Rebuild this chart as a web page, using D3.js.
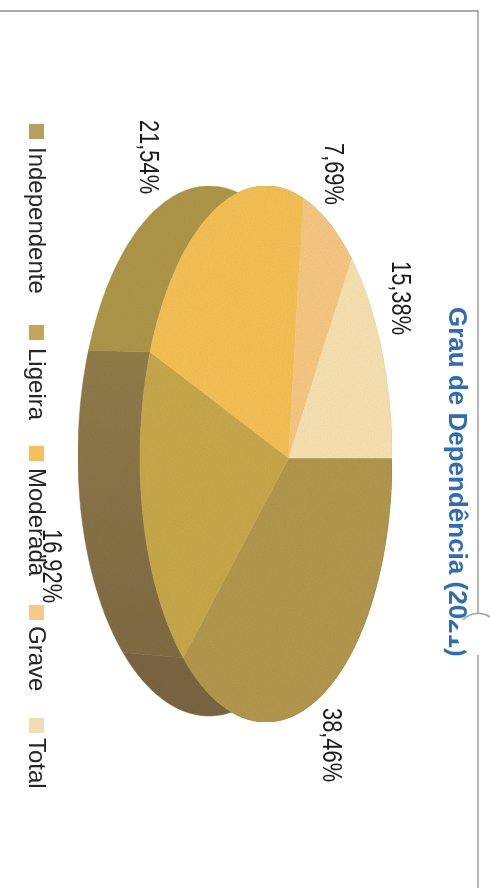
<!DOCTYPE html>
<html><head><meta charset="utf-8">
<script src="https://cdn.jsdelivr.net/npm/d3@7"></script>
<style>html,body{margin:0;padding:0;background:#fff;overflow:hidden}svg{display:block}text{font-family:"Liberation Sans",Arial,sans-serif}</style>
</head><body><div id="c"></div>
<script>
const categories = ["Independente","Ligeira","Moderada","Grave","Total"];
const values = [38.46,16.92,21.54,7.69,15.38];
const labels = ["38,46%","16,92%","21,54%","7,69%","15,38%"];
const topColors = ["#b0954c","#c5a549","#f2be52","#f3c480","#f5deae"];
const sideColors = ["#7a6440","url(#ligeiraSide)","#ac9447","#c09a55","#d0b880"];
const swatches = ["#b79f5c","#c2a655","#f4c05a","#f5c986","#f0dcb0"];
const labelPos = [[323,708],[43,529],[140,120],[325,143],[392,261]];
const legendPos = [124,325,446,605,718];
const legendTextPos = [147,348,468,626,738];
const title = "Grau de Dependência (2021)";

const W=490,H=888;
const svg=d3.select("#c").append("svg").attr("width",W).attr("height",H);
const defs=svg.append("defs");
defs.append("filter").attr("id","soft").append("feGaussianBlur").attr("stdDeviation",0.5);
const grain=defs.append("filter").attr("id","grain").attr("x",0).attr("y",0).attr("width","100%").attr("height","100%");
grain.append("feGaussianBlur").attr("in","SourceGraphic").attr("stdDeviation",0.5).attr("result","b");
grain.append("feTurbulence").attr("type","fractalNoise").attr("baseFrequency",0.7).attr("numOctaves",2).attr("seed",4).attr("result","n");
grain.append("feColorMatrix").attr("in","n").attr("type","matrix")
  .attr("values","0 0 0 0 0  0 0 0 0 0  0 0 0 0 0  1.2 0 0 0 -0.45").attr("result","d");
grain.append("feComposite").attr("in","d").attr("in2","b").attr("operator","in").attr("result","dd");
grain.append("feComponentTransfer").attr("in","dd").attr("result","dk").append("feFuncA").attr("type","linear").attr("slope",0.14);
grain.append("feMerge").call(m=>{m.append("feMergeNode").attr("in","b");m.append("feMergeNode").attr("in","dk");});
const lg=defs.append("linearGradient").attr("id","ligeiraSide").attr("gradientUnits","userSpaceOnUse")
  .attr("x1",0).attr("x2",0).attr("y1",350).attr("y2",660);
lg.append("stop").attr("offset",0).attr("stop-color","#8f7a49");
lg.append("stop").attr("offset",1).attr("stop-color","#7e6942");

const pie=d3.pie().sort(null).value(d=>d).startAngle(0).endAngle(2*Math.PI);
const arcs=pie(values);
// projected circle: angle 0 points right on the page, growing clockwise
const k=0.18;
const fx=d3.scaleLinear().domain([-1,1]).range([140,392]);
const fy=d3.scaleLinear().domain([-1,1]).range([186,722]);
const bx=d3.scaleLinear().domain([-1,1]).range([78,340]);
const by=d3.scaleLinear().domain([-1,1]).range([186,716]);
const proj=(a,sx,sy)=>{const u=Math.cos(a),v=Math.sin(a),d=1+k*u,t=v*Math.sqrt(1-k*k)/d;
  return [sx((u+k)/d),sy(t)+4*(1-t*t)];};
const center=[fx(k),fy(0)+4];
const line=d3.line();
const samples=(a0,a1)=>d3.range(0,61).map(i=>a0+(a1-a0)*i/60);

// page edges of the scanned sheet
const edge=svg.append("g").attr("filter","url(#soft)");
edge.append("path").attr("d","M0 11H478V888").attr("fill","none").attr("stroke","#8f8f8f").attr("stroke-width",1.3);

const g=svg.append("g").attr("filter","url(#grain)");
arcs.forEach((d,i)=>{
  const s=samples(d.startAngle,d.endAngle);
  const pts=s.map(a=>proj(a,fx,fy)).concat(s.slice().reverse().map(a=>proj(a,bx,by)));
  g.append("path").attr("d",line(pts)+"Z").attr("fill",sideColors[i]).attr("stroke",sideColors[i]).attr("stroke-width",.5);
});
arcs.forEach((d,i)=>{
  const pts=[center].concat(samples(d.startAngle,d.endAngle).map(a=>proj(a,fx,fy)));
  g.append("path").attr("d",line(pts)+"Z").attr("fill",topColors[i]).attr("stroke",topColors[i]).attr("stroke-width",.5);
});

const t=svg.append("g").attr("filter","url(#soft)");
const rot=(x,y)=>`translate(${x},${y}) rotate(90)`;
labels.forEach((s,i)=>{
  t.append("text").attr("transform",rot(labelPos[i][0],labelPos[i][1])+" scale(0.81,1)")
    .attr("font-size",27).attr("fill","#1f1f1f").text(s);
});
categories.forEach((s,i)=>{
  t.append("rect").attr("x",29).attr("width",15).attr("y",legendPos[i]).attr("height",15).attr("fill",swatches[i]);
  t.append("text").attr("transform",rot(28.5,legendTextPos[i])).attr("font-size",24).attr("fill","#262626").text(s);
});
t.append("text").attr("transform",rot(449,307)).attr("font-size",26).attr("font-weight",700).attr("fill","#2f6cb5").text(title);
// hole-punch shadow that hides part of the year
t.append("circle").attr("cx",478).attr("cy",634).attr("r",21).attr("fill","#fff");
t.append("path").attr("d","M463 620A21 21 0 0 1 490 617").attr("fill","none").attr("stroke","#a6a6a6").attr("stroke-width",1.6);
</script></body></html>
